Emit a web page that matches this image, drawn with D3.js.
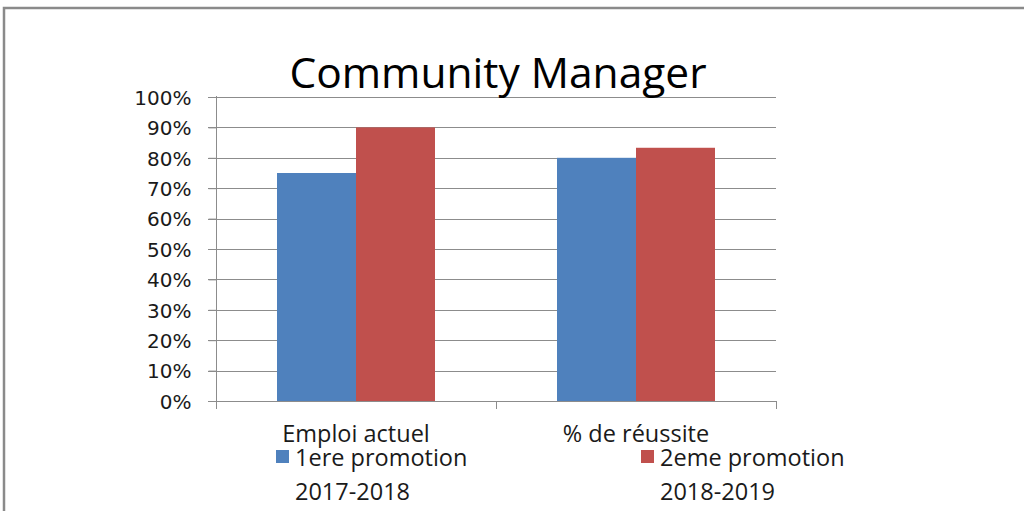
<!DOCTYPE html>
<html>
<head>
<meta charset="utf-8">
<script src="https://cdn.jsdelivr.net/npm/d3@7"></script>
<style>
body { margin: 0; background: #fff; }
</style>
</head>
<body>
<script>
var width = 1024,
    height = 511;

var categories = ["Emploi actuel", "% de réussite"];
var series = ["1ere promotion", "2eme promotion"];
var seriesSub = ["2017-2018", "2018-2019"];
var values1 = [0.75, 0.80];
var values2 = [0.90, 0.833];
var colors = ["#4f81bd", "#c0504d"];

var font = "'Open Sans', 'Liberation Sans', sans-serif";
var tickFont = "'DejaVu Sans', sans-serif";

var svg = d3.select("body").append("svg")
    .attr("width", width)
    .attr("height", height)
    .style("display", "block");

// outer frame
svg.append("path")
    .attr("d", "M4,511 V8 H1024")
    .attr("fill", "none")
    .attr("stroke", "#8a8a8a")
    .attr("stroke-width", 2.5);

var plotLeft = 216, plotRight = 776, plotTop = 97, plotBottom = 401;

var y = d3.scaleLinear().domain([0, 1]).range([plotBottom, plotTop]);
var x0 = d3.scaleBand().domain(categories).range([plotLeft, plotRight]);
var x1 = d3.scaleBand().domain(series).range([61, x0.bandwidth() - 61]);

// gridlines
svg.append("g")
    .selectAll("line")
    .data(d3.range(1, 11).map(function(d) { return d / 10; }))
    .enter().append("line")
    .attr("x1", plotLeft - 8)
    .attr("x2", plotRight)
    .attr("y1", function(d) { return Math.round(y(d)) + 0.5; })
    .attr("y2", function(d) { return Math.round(y(d)) + 0.5; })
    .attr("stroke", "#8c8c8c")
    .attr("stroke-width", 1);

// y axis
var yAxis = svg.append("g")
    .attr("transform", "translate(" + (plotLeft + 0.5) + ",0)")
    .call(d3.axisLeft(y).ticks(10).tickFormat(d3.format(".0%")).tickSize(8).tickPadding(17));
yAxis.select(".domain").attr("stroke", "#8c8c8c").attr("d", "M0," + (plotTop - 1) + "V" + (plotBottom + 0.5));
yAxis.selectAll(".tick line").attr("stroke", "#8c8c8c");
yAxis.selectAll(".tick text")
    .attr("fill", "#1a1a1a")
    .style("font-family", tickFont)
    .style("font-size", "20px")
    .attr("dy", "0.36em");

// bars
var rows = categories.map(function(c, i) { return [values1[i], values2[i]]; });
var groups = svg.append("g")
    .selectAll("g")
    .data(rows)
    .enter().append("g")
    .attr("transform", function(d, i) { return "translate(" + x0(categories[i]) + ",0)"; });

groups.selectAll("rect")
    .data(function(d) { return d; })
    .enter().append("rect")
    .attr("x", function(d, i) { return x1(series[i]); })
    .attr("y", function(d) { return y(d); })
    .attr("width", x1.bandwidth())
    .attr("height", function(d) { return plotBottom - y(d); })
    .attr("fill", function(d, i) { return colors[i]; });

// x axis
var xAxis = svg.append("g")
    .attr("transform", "translate(0," + (plotBottom + 0.5) + ")")
    .call(d3.axisBottom(x0).tickSize(0).tickPadding(24));
xAxis.select(".domain").attr("stroke", "#8c8c8c").attr("d", "M" + (plotLeft - 8) + ",0H" + plotRight);
xAxis.selectAll(".tick text")
    .attr("fill", "#1a1a1a")
    .style("font-family", font)
    .style("font-size", "23.5px");
svg.append("g")
    .selectAll("line")
    .data([plotLeft, plotLeft + x0.bandwidth(), plotRight])
    .enter().append("line")
    .attr("x1", function(d) { return d + 0.5; })
    .attr("x2", function(d) { return d + 0.5; })
    .attr("y1", plotBottom)
    .attr("y2", plotBottom + 8)
    .attr("stroke", "#8c8c8c");

// title
svg.append("text")
    .attr("x", 498)
    .attr("y", 88)
    .attr("text-anchor", "middle")
    .attr("fill", "#000")
    .style("font-family", font)
    .style("font-size", "42.5px")
    .text("Community Manager");

// legend
var legendX = [276, 641];
var legend = svg.append("g")
    .selectAll("g")
    .data(series)
    .enter().append("g")
    .attr("transform", function(d, i) { return "translate(" + legendX[i] + ",0)"; });
legend.append("rect")
    .attr("x", 0)
    .attr("y", 450)
    .attr("width", 13)
    .attr("height", 13)
    .attr("fill", function(d, i) { return colors[i]; });
legend.append("text")
    .attr("x", 19)
    .attr("y", 466)
    .attr("fill", "#1a1a1a")
    .style("font-family", font)
    .style("font-size", "23.5px")
    .text(function(d) { return d; });
legend.append("text")
    .attr("x", 19)
    .attr("y", 500)
    .attr("fill", "#1a1a1a")
    .style("font-family", font)
    .style("font-size", "23.5px")
    .text(function(d, i) { return seriesSub[i]; });
</script>
</body>
</html>
